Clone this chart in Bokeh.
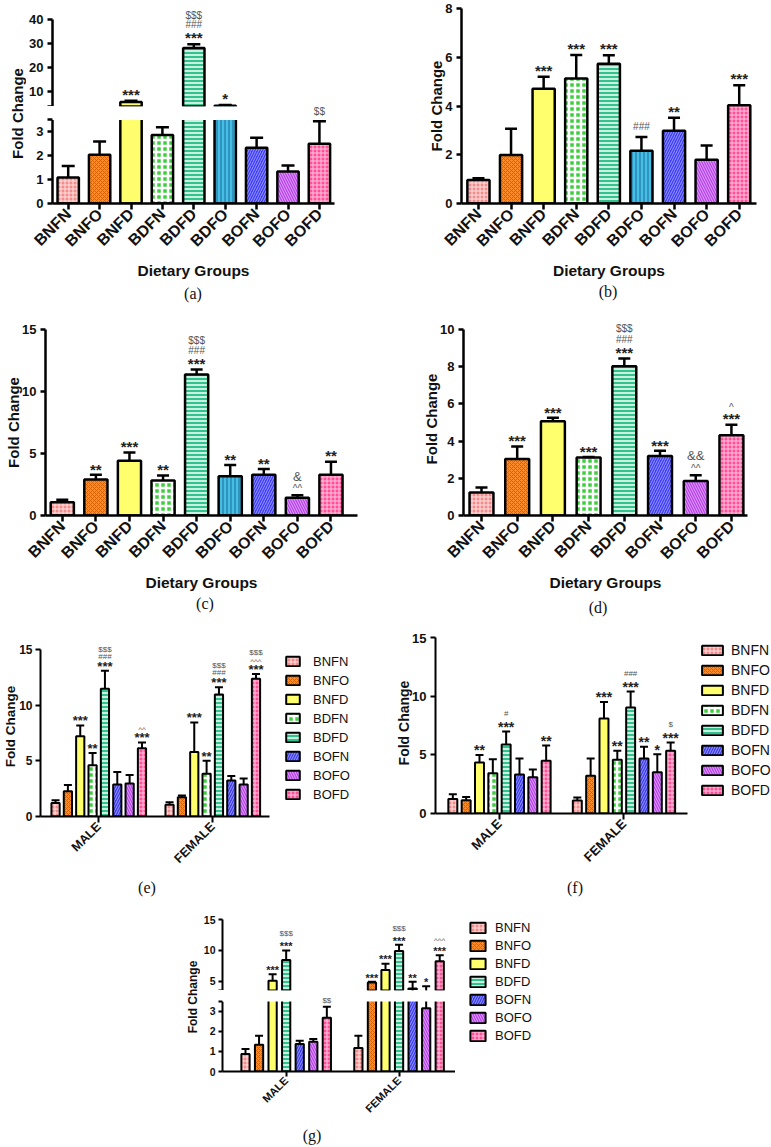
import math
from bokeh.plotting import figure
from bokeh.models import (ColumnDataSource, FixedTicker, Range1d, LabelSet, Div, Spacer,
                          BoxAnnotation)
from bokeh.layouts import row, column
from bokeh.core.properties import value
from bokeh.embed import file_html
from bokeh.resources import INLINE

# ---------------- data ----------------
groups9 = ["BNFN", "BNFO", "BNFD", "BDFN", "BDFD", "BDFO", "BOFN", "BOFO", "BOFD"]
groups8 = ["BNFN", "BNFO", "BNFD", "BDFN", "BDFD", "BOFN", "BOFO", "BOFD"]
groups7 = ["BNFN", "BNFO", "BNFD", "BDFD", "BOFN", "BOFO", "BOFD"]
sexes = ["MALE", "FEMALE"]

a_mean = [1.09, 2.04, 5.9, 2.87, 28.2, 4.3, 2.34, 1.34, 2.5]
a_sem = [0.48, 0.56, 0.45, 0.32, 1.6, 0.3, 0.41, 0.25, 0.95]
a_sig = [[], [], ["***"], [], ["***", "###", "$$$"], ["*"], [], [], ["$$"]]

b_mean = [0.96, 1.99, 4.71, 5.13, 5.73, 2.16, 2.98, 1.79, 4.03]
b_sem = [0.08, 1.08, 0.49, 0.96, 0.35, 0.57, 0.54, 0.59, 0.82]
b_sig = [[], [], ["***"], ["***"], ["***"], ["###"], ["**"], [], ["***"]]

c_mean = [1.06, 2.91, 4.42, 2.83, 11.38, 3.17, 3.28, 1.43, 3.28]
c_sem = [0.21, 0.37, 0.66, 0.40, 0.39, 0.90, 0.48, 0.21, 1.06]
c_sig = [[], ["**"], ["***"], ["**"], ["***", "###", "$$$"], ["**"], ["**"], ["^^", "&"], ["**"]]

d_mean = [1.24, 3.04, 5.07, 3.11, 8.02, 3.2, 1.86, 4.31]
d_sem = [0.26, 0.67, 0.18, 0.03, 0.41, 0.28, 0.3, 0.57]
d_sig = [[], ["***"], ["***"], ["***"], ["***", "###", "$$$"], ["***"], ["^^", "&&"], ["***", "^"]]

e_male_mean = [1.21, 2.27, 7.2, 4.6, 11.47, 2.88, 2.97, 6.12]
e_male_sem = [0.24, 0.55, 0.98, 1.1, 1.63, 1.12, 0.76, 0.52]
e_female_mean = [1.05, 1.73, 5.79, 3.85, 10.96, 3.24, 2.88, 12.37]
e_female_sem = [0.22, 0.15, 2.66, 1.15, 0.64, 0.4, 0.54, 0.43]
e_male_sig = [[], [], ["***"], ["**"], ["***", "###", "$$$"], [], [], ["***", "^^"]]
e_female_sig = [[], [], ["***"], ["**"], ["***", "###", "$$$"], [], [], ["***", "^^^", "$$$"]]

f_male_mean = [1.23, 1.14, 4.36, 3.45, 5.9, 3.33, 3.1, 4.5]
f_male_sem = [0.42, 0.28, 0.63, 1.19, 1.1, 1.37, 0.66, 1.31]
f_female_mean = [1.11, 3.22, 8.12, 4.59, 9.06, 4.7, 3.53, 5.36]
f_female_sem = [0.26, 1.48, 1.42, 0.77, 1.37, 1.0, 1.54, 0.71]
f_male_sig = [[], [], ["**"], [], ["***", "#"], [], [], ["**"]]
f_female_sig = [[], [], ["***"], ["**"], ["***", "###"], ["**"], ["*"], ["***", "$"]]

g_male_mean = [0.88, 1.34, 5.1, 8.44, 1.37, 1.49, 2.69]
g_male_sem = [0.24, 0.45, 1.03, 1.56, 0.17, 0.13, 0.55]
g_female_mean = [1.17, 4.78, 6.83, 9.9, 3.82, 3.16, 8.23]
g_female_sem = [0.62, 0.12, 1.02, 1.0, 1.08, 1.04, 0.97]
g_male_sig = [[], [], ["***"], ["***", "$$$"], [], [], ["$$"]]
g_female_sig = [[], ["***"], ["***"], ["***", "$$$"], ["**"], ["*"], ["***", "^^^"]]

# ---------------- styles ----------------
SANS = "Liberation Sans"
SERIF = "Liberation Serif"

STYLE = {
    "BNFN": dict(fill_color="#f28c8c", hatch_pattern="cross", hatch_color="#fde3e3", hatch_scale=4, hatch_weight=1),
    "BNFO": dict(fill_color="#fb8a2c", hatch_pattern="diagonal_cross", hatch_color="#d86200", hatch_scale=4, hatch_weight=1),
    "BNFD": dict(fill_color="#ffff6e"),
    "BDFN": dict(fill_color="#3ccf3c", hatch_pattern="cross", hatch_color="#ffffff", hatch_scale=6, hatch_weight=2.5),
    "BDFD": dict(fill_color="#30c38d", hatch_pattern="horizontal_line", hatch_color="#ffffff", hatch_scale=4, hatch_weight=1.5),
    "BDFO": dict(fill_color="#46bde3", hatch_pattern="vertical_line", hatch_color="#1f7aa8", hatch_scale=4, hatch_weight=1.2),
    "BOFN": dict(fill_color="#3c3cf5", hatch_pattern="right_diagonal_line", hatch_color="#9a9aff", hatch_scale=5, hatch_weight=1),
    "BOFO": dict(fill_color="#b545e8", hatch_pattern="left_diagonal_line", hatch_color="#e6a0ff", hatch_scale=5, hatch_weight=1),
    "BOFD": dict(fill_color="#ff4f98", hatch_pattern="cross", hatch_color="#ffc8e0", hatch_scale=4, hatch_weight=1),
}


def make_fig(w, h, mbl, mbr, mbt, mbb, xr, yr, xaxis=True):
    p = figure(width=w, height=h, min_border_left=mbl, min_border_right=mbr,
               min_border_top=mbt, min_border_bottom=mbb,
               x_range=Range1d(*xr), y_range=Range1d(*yr),
               toolbar_location=None, output_backend="svg",
               x_axis_location=("below" if xaxis else None))
    p.outline_line_color = None
    p.grid.visible = False
    p.background_fill_color = "white"
    p.border_fill_color = "white"
    return p


def base_axis(ax, lw, fs, tick_out=5, standoff=4):
    ax.axis_line_width = lw
    ax.axis_line_color = "black"
    ax.major_tick_line_width = lw
    ax.major_tick_line_color = "black"
    ax.major_tick_in = 0
    ax.major_tick_out = tick_out
    ax.minor_tick_line_color = None
    ax.major_label_text_font = SANS
    ax.major_label_text_font_style = "bold"
    ax.major_label_text_font_size = f"{fs}px"
    ax.major_label_text_color = "#111111"
    ax.major_label_standoff = standoff
    ax.axis_label_text_font = SANS
    ax.axis_label_text_font_style = "bold"
    ax.axis_label_text_color = "#111111"


def set_y(p, ticks, fs, lw, bounds=None, overrides=None, label=None, label_fs=15,
          tick_out=5, standoff=4, label_standoff=-3):
    ax = p.yaxis[0]
    base_axis(ax, lw, fs, tick_out=tick_out, standoff=standoff)
    ax.ticker = FixedTicker(ticks=ticks)
    if bounds is not None:
        ax.bounds = bounds
    if overrides:
        ax.major_label_overrides = overrides
    if label:
        ax.axis_label = label
        ax.axis_label_text_font_size = f"{label_fs}px"
        ax.axis_label_standoff = label_standoff


def set_x(p, ticks, labels, fs, lw, bounds=None, label=None, label_fs=15.5, tick_out=6):
    ax = p.xaxis[0]
    base_axis(ax, lw, fs, tick_out=tick_out, standoff=2)
    ax.ticker = FixedTicker(ticks=ticks)
    ax.major_label_overrides = {t: s for t, s in zip(ticks, labels)}
    ax.major_label_orientation = math.pi / 4
    if bounds is not None:
        ax.bounds = bounds
    if label:
        ax.axis_label = label
        ax.axis_label_text_font_size = f"{label_fs}px"
        ax.axis_label_standoff = 3


def error_bars(p, xs, means, sems, lw, cap, min_top=None):
    tops = [m + s for m, s in zip(means, sems)]
    keep = [i for i in range(len(xs)) if min_top is None or tops[i] > min_top]
    src = ColumnDataSource(dict(x=[xs[i] for i in keep], m=[means[i] for i in keep],
                                t=[tops[i] for i in keep]))
    p.segment(x0="x", y0="m", x1="x", y1="t", source=src, line_color="black", line_width=lw)
    p.scatter(x="x", y="t", source=src, marker="dash", size=cap, line_color="black", line_width=lw)
    return tops


def simple_bars(p, names, means, sems, width, lw, cap, min_val=None):
    xs = list(range(len(names)))
    for i, nm in enumerate(names):
        if min_val is not None and means[i] <= min_val:
            continue
        p.vbar(x=[xs[i]], top=[means[i]], bottom=0, width=width,
               line_color="black", line_width=lw, **STYLE[nm])
    tops = error_bars(p, xs, means, sems, lw, cap, min_top=min_val)
    return xs, tops


def grouped_bars(p, names, mm, ms, fm, fs_, d, width, lw, cap, legend=True, min_val=None):
    n = len(names)
    for i, nm in enumerate(names):
        off = (i - (n - 1) / 2) * d
        xs, tops = [], []
        for g, v in enumerate([mm[i], fm[i]]):
            if min_val is not None and v <= min_val:
                continue
            xs.append(g + off)
            tops.append(v)
        if not xs:
            continue
        kw = dict(legend_label=nm) if legend else {}
        p.vbar(x=xs, top=tops, bottom=0, width=width,
               line_color="black", line_width=lw, **STYLE[nm], **kw)
    xs_all, m_all, s_all = [], [], []
    for g, (mean, sem) in enumerate([(mm, ms), (fm, fs_)]):
        for i in range(n):
            xs_all.append(g + (i - (n - 1) / 2) * d)
            m_all.append(mean[i])
            s_all.append(sem[i])
    tops = error_bars(p, xs_all, m_all, s_all, lw, cap, min_top=min_val)
    return xs_all, tops


def annotate(p, xs, tops, sigs, base, step, star_fs, sym_fs, lo=-1e9, hi=1e9):
    X, Y, T, OFF, FS, COL, STY = [], [], [], [], [], [], []
    for x, t, lines in zip(xs, tops, sigs):
        if not (lo <= t < hi):
            continue
        for k, s in enumerate(lines):
            c = base + step * k
            if s.startswith("*"):
                X.append(x); Y.append(t); T.append(s)
                OFF.append(c - 0.22 * star_fs); FS.append(f"{star_fs}px")
                COL.append("#222222"); STY.append("bold")
            else:
                f = sym_fs + (3 if s.startswith("&") else 0)
                adj = 0.2 * f if s.startswith("^") else 0
                X.append(x); Y.append(t); T.append(s)
                OFF.append(c - adj); FS.append(f"{f}px")
                COL.append("#555555"); STY.append("normal")
    if not X:
        return
    src = ColumnDataSource(dict(x=X, y=Y, text=T, off=OFF, fs=FS, col=COL, sty=STY))
    p.add_layout(LabelSet(x="x", y="y", text="text", y_offset="off", source=src,
                          text_font=value(SANS), text_font_size="fs", text_color="col",
                          text_font_style="sty", text_align="center", text_baseline="middle"))


def mask_break(p, start):
    # white band that hides everything above the lower segment of a broken axis
    p.add_layout(BoxAnnotation(bottom=start, fill_color="white", fill_alpha=1.0,
                               line_color=None))


def label_fig(text, w, h, mbt, mbb, fs):
    p = figure(width=w, height=h, min_border_left=w - 1, min_border_right=0,
               min_border_top=mbt, min_border_bottom=mbb,
               x_range=Range1d(0, 1), y_range=Range1d(0, 1),
               toolbar_location=None, output_backend="svg", x_axis_location=None)
    p.outline_line_color = None
    p.grid.visible = False
    ax = p.yaxis[0]
    ax.ticker = FixedTicker(ticks=[])
    ax.axis_line_color = None
    ax.major_tick_line_color = None
    ax.minor_tick_line_color = None
    ax.major_tick_out = 0
    ax.major_tick_in = 0
    ax.minor_tick_out = 0
    ax.minor_tick_in = 0
    ax.major_label_standoff = 0
    ax.major_label_text_font_size = "0px"
    ax.axis_label = text
    ax.axis_label_standoff = 0
    ax.axis_label_text_font = SANS
    ax.axis_label_text_font_style = "bold"
    ax.axis_label_text_font_size = f"{fs}px"
    ax.axis_label_text_color = "#111111"
    return p


def caption(text, center, left, height, lh):
    d = Div(text=text, width=40, height=height, margin=0,
            styles={"font-family": SERIF, "font-size": "16px", "line-height": f"{lh}px",
                    "text-align": "center", "color": "#111111"})
    return row(Spacer(width=int(center - left - 20), height=height, margin=0), d)


def style_legend(p, loc, gw, gh, lh, sp, so, fs):
    lg = p.legend[0]
    lg.location = loc
    lg.glyph_width = gw
    lg.glyph_height = gh
    lg.label_height = lh
    lg.spacing = sp
    lg.label_standoff = so
    lg.label_text_font = SANS
    lg.label_text_font_size = f"{fs}px"
    lg.label_text_color = "#111111"
    lg.padding = 0
    lg.margin = 0
    lg.border_line_color = None
    lg.background_fill_alpha = 0


# ---------------- panel (a) : broken axis ----------------
lab_a = label_fig("Fold Change", 26, 282, 19, 75, 15)
up_a = make_fig(359, 106, 26, 51, 8, 0, (-0.5, 8.48), (4, 44.55), xaxis=False)
low_a = make_fig(359, 176, 26, 51, 0, 75, (-0.5, 8.48), (0, 4.063))
xs_a, tops_a = simple_bars(up_a, groups9, a_mean, a_sem, 0.68, 2.5, 13, min_val=4)
simple_bars(low_a, groups9, a_mean, a_sem, 0.68, 2.5, 13)
mask_break(low_a, 3.5)
annotate(up_a, xs_a, tops_a, a_sig, 10, 9.5, 15, 10, lo=4)
annotate(low_a, xs_a, tops_a, a_sig, 10, 9.5, 15, 10, hi=4)
set_y(up_a, [4, 10, 20, 30, 40], 13, 2.5, bounds=(4, 40), overrides={4: ""})
set_y(low_a, [0, 1, 2, 3, 3.5], 13, 2.5, bounds=(0, 3.5), overrides={3.5: ""})
set_x(low_a, list(range(9)), groups9, 16, 2.5, label="Dietary Groups")
col_a = column(row(lab_a, column(up_a, low_a)), caption("(a)", 193, 0, 28, 24))

# ---------------- panel (b) ----------------
fig_b = make_fig(386, 282, 76, 15, 8, 79, (-0.52, 8.53), (0, 8))
xs_b, tops_b = simple_bars(fig_b, groups9, b_mean, b_sem, 0.68, 2.5, 12)
annotate(fig_b, xs_b, tops_b, b_sig, 10, 9.5, 15, 10)
set_y(fig_b, [0, 2, 4, 6, 8], 13, 2.5, label="Fold Change", label_fs=15)
set_x(fig_b, list(range(9)), groups9, 16, 2.5, label="Dietary Groups")
col_b = column(fig_b, caption("(b)", 608, 385, 28, 20))

# ---------------- panel (c) ----------------
fig_c = make_fig(385, 284, 45, 28, 19, 75, (-0.5, 8.79), (0, 15))
xs_c, tops_c = simple_bars(fig_c, groups9, c_mean, c_sem, 0.69, 2.5, 12)
annotate(fig_c, xs_c, tops_c, c_sig, 9, 10, 15, 10)
set_y(fig_c, [0, 5, 10, 15], 13, 2.5, label="Fold Change", label_fs=15)
set_x(fig_c, list(range(9)), groups9, 16, 2.5, label="Dietary Groups")
col_c = column(fig_c, caption("(c)", 205, 0, 36, 20))

# ---------------- panel (d) ----------------
fig_d = make_fig(386, 284, 78, 24, 12, 75, (-0.504, 7.45), (0, 10.37))
xs_d, tops_d = simple_bars(fig_d, groups8, d_mean, d_sem, 0.67, 2.5, 12)
annotate(fig_d, xs_d, tops_d, d_sig, 9, 10.5, 15, 10)
set_y(fig_d, [0, 2, 4, 6, 8, 10], 13, 2.5, bounds=(0, 10), label="Fold Change", label_fs=15)
set_x(fig_d, list(range(8)), groups8, 16, 2.5, label="Dietary Groups")
col_d = column(fig_d, caption("(d)", 598, 385, 36, 28))

# ---------------- panel (e) ----------------
fig_e = make_fig(385, 249, 37, 5, 6, 63, (-0.511, 2.471), (0, 16.17))
xs_e, tops_e = grouped_bars(fig_e, groups8, e_male_mean, e_male_sem, e_female_mean, e_female_sem,
                            0.1083, 0.072, 2, 8)
annotate(fig_e, xs_e, tops_e, e_male_sig + e_female_sig, 7.5, 7, 13, 8)
set_y(fig_e, [0, 5, 10, 15], 12, 2, bounds=(0, 15), label="Fold Change", label_fs=13.5,
      standoff=3, label_standoff=-2)
set_x(fig_e, [0, 1], sexes, 12.5, 2, bounds=(-0.511, 1.497))
style_legend(fig_e, (244, 14), 17, 12, 16, 3, 12, 13)
col_e = column(fig_e, caption("(e)", 147, 0, 26, 18))

# ---------------- panel (f) ----------------
fig_f = make_fig(386, 249, 50, 0, 2, 66, (-0.514, 2.185), (0, 15.47))
xs_f, tops_f = grouped_bars(fig_f, groups8, f_male_mean, f_male_sem, f_female_mean, f_female_sem,
                            0.1071, 0.072, 2, 8)
annotate(fig_f, xs_f, tops_f, f_male_sig + f_female_sig, 7.7, 10, 14, 8)
set_y(fig_f, [0, 5, 10, 15], 13, 2, bounds=(0, 15), label="Fold Change", label_fs=14)
set_x(fig_f, [0, 1], sexes, 13, 2, bounds=(-0.514, 1.51))
style_legend(fig_f, (264, 15), 26, 12, 17, 3, 6, 14)
col_f = column(fig_f, caption("(f)", 575, 385, 26, 18))

# ---------------- panel (g) : broken axis ----------------
lab_g = label_fig("Fold Change", 20, 216, 14, 48, 12)
up_g = make_fig(255, 85, 19, 0, 7, 0, (-0.564, 1.5), (3.5, 16.14), xaxis=False)
low_g = make_fig(255, 131, 19, 0, 0, 48, (-0.564, 1.5), (0, 4.049))
xs_g, tops_g = grouped_bars(up_g, groups7, g_male_mean, g_male_sem, g_female_mean, g_female_sem,
                            0.1201, 0.073, 2, 8, legend=False, min_val=3.5)
grouped_bars(low_g, groups7, g_male_mean, g_male_sem, g_female_mean, g_female_sem,
             0.1201, 0.073, 2, 8, legend=False)
mask_break(low_g, 3.5)
annotate(up_g, xs_g, tops_g, g_male_sig + g_female_sig, 6.6, 10, 11, 8, lo=3.5)
annotate(low_g, xs_g, tops_g, g_male_sig + g_female_sig, 6.6, 10, 11, 8, hi=3.5)
set_y(up_g, [3.5, 5, 10, 15], 10.5, 2, bounds=(3.5, 15), overrides={3.5: ""}, tick_out=4, standoff=3)
set_y(low_g, [0, 1, 2, 3, 3.5], 10.5, 2, bounds=(0, 3.5), overrides={3.5: ""}, tick_out=4, standoff=3)
set_x(low_g, [0, 1], sexes, 11, 2, tick_out=5)

leg_g = figure(width=100, height=216, min_border_left=13, min_border_right=0,
               min_border_top=15, min_border_bottom=0,
               x_range=Range1d(0, 1), y_range=Range1d(0, 1),
               toolbar_location=None, output_backend="svg",
               x_axis_location=None, y_axis_location=None)
leg_g.outline_line_color = None
leg_g.grid.visible = False
for i, nm in enumerate(groups7):
    leg_g.vbar(x=[i], top=[g_male_mean[i]], width=0.5, line_color="black", line_width=2,
               legend_label=nm, visible=False, **STYLE[nm])
style_legend(leg_g, "top_left", 19, 13, 15, 3, 8, 13)

row_g = column(row(Spacer(width=180, height=216, margin=0), lab_g, column(up_g, low_g), leg_g),
               caption("(g)", 312, 0, 26, 30))

layout = column(row(col_a, col_b), row(col_c, col_d), row(col_e, col_f), row_g)

open("out.html", "w").write(file_html(layout, INLINE))
